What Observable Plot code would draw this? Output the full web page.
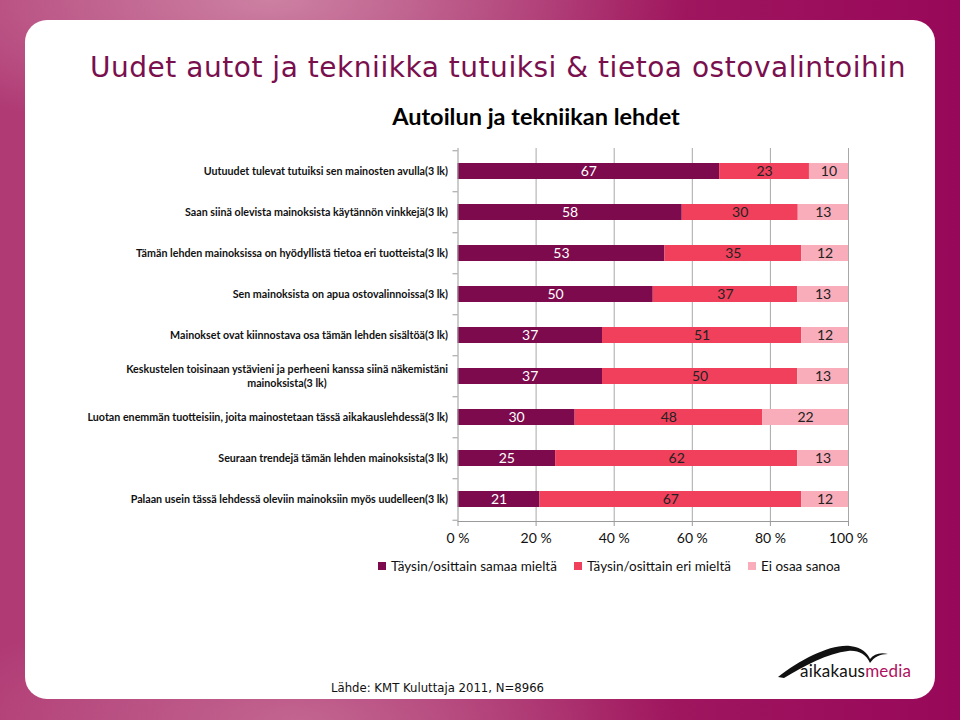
<!DOCTYPE html>
<html>
<head>
<meta charset="utf-8">
<script src="https://cdn.jsdelivr.net/npm/d3@7"></script>
<script src="https://cdn.jsdelivr.net/npm/@observablehq/plot@0.6"></script>
<style>
  html, body { margin: 0; padding: 0; }
  body {
    width: 960px; height: 720px; position: relative; overflow: hidden;
    background:
      radial-gradient(ellipse 420px 140px at 270px 0px, rgba(210,140,170,0.85), rgba(210,140,170,0) 100%),
      radial-gradient(ellipse 380px 120px at 300px 720px, rgba(200,110,150,0.8), rgba(200,110,150,0) 100%),
      linear-gradient(90deg, #b03a74 0%, #ad3d76 30%, #a0185f 65%, #98085a 100%);
    font-family: Lato, "Open Sans", sans-serif;
  }
  #card {
    position: absolute; left: 25px; top: 20px; width: 910px; height: 679px;
    background: #fff; border-radius: 22px;
  }
  #title {
    position: absolute; left: 90px; top: 54px; white-space: nowrap;
    font-family: "DejaVu Sans", sans-serif; letter-spacing: 0.53px;
    font-size: 28px; color: #7a0f4e; line-height: 1;
  }
  #subtitle {
    position: absolute; left: 0; width: 1072px; text-align: center; top: 105px;
    font-family: Lato, sans-serif; font-weight: bold; font-size: 23.5px; color: #000; line-height: 1;
  }
  #chart { position: absolute; left: 0; top: 140px; }
  #legend {
    position: absolute; top: 557px; left: 378px; white-space: nowrap;
    font-family: Lato, sans-serif; font-size: 13.5px; color: #111; line-height: 18px;
  }
  #legend span.item { display: inline-block; margin-right: 17px; }
  #legend span.sw { display: inline-block; width: 8px; height: 8px; margin-right: 5px; vertical-align: 1px; }
  #source {
    position: absolute; left: 331px; top: 680px; white-space: nowrap;
    font-family: "DejaVu Sans Condensed", "DejaVu Sans", sans-serif; font-size: 13px; color: #111;
  }
  #logo { position: absolute; left: 770px; top: 640px; }
</style>
</head>
<body>
<div id="card"></div>
<div id="title">Uudet autot ja tekniikka tutuiksi &amp; tietoa ostovalintoihin</div>
<div id="subtitle">Autoilun ja tekniikan lehdet</div>
<div id="chart"></div>
<div id="legend"></div>
<div id="source">Lähde: KMT Kuluttaja 2011, N=8966</div>
<svg id="logo" width="160" height="50" viewBox="0 0 160 50">
  <path d="M8,37 C30,20 60,4 80,6 C92,7 98,14 100,19 C104,14 110,12 118,14 C110,14 104,17 100,23 C96,14 88,10 78,11 C58,13 34,26 14,38 Z" fill="#111"/>
  <text x="30" y="37" font-family="Lato, sans-serif" font-size="17" fill="#111" letter-spacing="0.2">aikakaus<tspan fill="#b0105e">media</tspan></text>
</svg>
<script>
const categories = [
  "Uutuudet tulevat tutuiksi sen mainosten avulla(3 lk)",
  "Saan siinä olevista mainoksista käytännön vinkkejä(3 lk)",
  "Tämän lehden mainoksissa on hyödyllistä tietoa eri tuotteista(3 lk)",
  "Sen mainoksista on apua ostovalinnoissa(3 lk)",
  "Mainokset ovat kiinnostava osa tämän lehden sisältöä(3 lk)",
  "Keskustelen toisinaan ystävieni ja perheeni kanssa siinä näkemistäni\nmainoksista(3 lk)",
  "Luotan enemmän tuotteisiin, joita mainostetaan tässä aikakauslehdessä(3 lk)",
  "Seuraan trendejä tämän lehden mainoksista(3 lk)",
  "Palaan usein tässä lehdessä oleviin mainoksiin myös uudelleen(3 lk)"
];
const agree     = [67, 58, 53, 50, 37, 37, 30, 25, 21];
const disagree  = [23, 30, 35, 37, 51, 50, 48, 62, 67];
const dontKnow  = [10, 13, 12, 13, 12, 13, 22, 13, 12];
const seriesNames  = ["Täysin/osittain samaa mieltä", "Täysin/osittain eri mieltä", "Ei osaa sanoa"];
const seriesColors = ["#7c0a4c", "#f0405b", "#f9adba"];
const xTicks = [0, 0.2, 0.4, 0.6, 0.8, 1];
const xTickLabels = ["0 %", "20 %", "40 %", "60 %", "80 %", "100 %"];

const seriesValues = [agree, disagree, dontKnow];
const rows = [];
categories.forEach((cat, i) => {
  seriesValues.forEach((arr, s) => rows.push({cat, series: seriesNames[s], value: arr[i]}));
});

const marginTop = 8, marginBottom = 34, innerH = 373;
const height = marginTop + innerH + marginBottom;
const step = innerH / categories.length;

const labelSize = 10.7;
const ctx = document.createElement("canvas").getContext("2d");
ctx.font = `bold ${labelSize}px Lato`;
const single = categories.filter(c => !c.includes("\n"));
const multi = categories.filter(c => c.includes("\n"));
const firstLine = c => c.split("\n")[0];
const secondLine = c => c.split("\n")[1];
const mw = multi.length ? (ctx.measureText(firstLine(multi[0])).width - ctx.measureText(secondLine(multi[0])).width) / 2 : 0;

const stackOpts = {x: "value", y: "cat", z: "series", offset: "normalize"};
const chart = Plot.plot({
  width: 960,
  height,
  marginLeft: 457.5,
  marginRight: 112,
  marginTop,
  marginBottom,
  style: {fontFamily: "Lato, sans-serif", background: "transparent", overflow: "visible"},
  x: {domain: [0, 1], axis: null, label: null},
  y: {domain: categories, paddingInner: 0.614, paddingOuter: 0.307, axis: null, label: null},
  color: {domain: seriesNames, range: seriesColors},
  marks: [
    Plot.gridX(xTicks.slice(1), {stroke: "#a8a8a8", strokeOpacity: 1, strokeWidth: 1}),
    Plot.barX(rows, Plot.stackX({...stackOpts, fill: "series"})),
    Plot.text(rows, Plot.stackX({...stackOpts, text: d => d.series === seriesNames[0] ? String(d.value) : "", fill: "white", fontSize: 14})),
    Plot.text(rows, Plot.stackX({...stackOpts, text: d => d.series !== seriesNames[0] ? String(d.value) : "", fill: "#222", fontSize: 14})),
    Plot.ruleX([0], {stroke: "#9a9a9a"}),
    Plot.frame({anchor: "bottom", stroke: "#9a9a9a"}),
    Plot.axisX({ticks: xTicks, tickFormat: d => xTickLabels[xTicks.indexOf(d)], tickSize: 5, tickPadding: 7, stroke: "#9a9a9a", fontSize: 14, fill: "#111", label: null}),
    Plot.axisY({ticks: categories, tickSize: 5, tickFormat: () => "", dy: -step / 2, stroke: "#9a9a9a", label: null}),
    Plot.axisY({ticks: categories.slice(-1), tickSize: 5, tickFormat: () => "", dy: step / 2, stroke: "#9a9a9a", label: null}),
    Plot.text(single, {y: d => d, text: d => d, frameAnchor: "left", textAnchor: "end", dx: -10, fontSize: labelSize, fontWeight: "bold", fill: "#111"}),
    Plot.text(multi, {y: d => d, text: firstLine, frameAnchor: "left", textAnchor: "end", dx: -10, dy: -7, fontSize: labelSize, fontWeight: "bold", fill: "#111"}),
    Plot.text(multi, {y: d => d, text: secondLine, frameAnchor: "left", textAnchor: "end", dx: -10 - mw, dy: 7, fontSize: labelSize, fontWeight: "bold", fill: "#111"})
  ]
});
document.getElementById("chart").appendChild(chart);

const legend = document.getElementById("legend");
seriesNames.forEach((name, i) => {
  const item = document.createElement("span");
  item.className = "item";
  const sw = document.createElement("span");
  sw.className = "sw";
  sw.style.background = seriesColors[i];
  item.appendChild(sw);
  item.appendChild(document.createTextNode(name));
  legend.appendChild(item);
});
</script>
</body>
</html>
